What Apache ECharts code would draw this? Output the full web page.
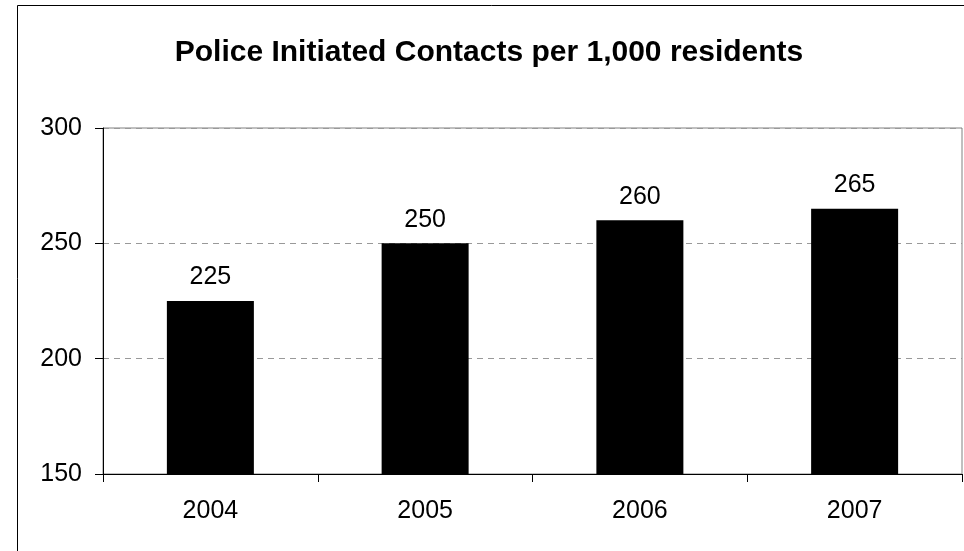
<!DOCTYPE html>
<html>
<head>
<meta charset="utf-8">
<script src="https://cdn.jsdelivr.net/npm/echarts@6/dist/echarts.min.js"></script>
<style>
  html, body { margin: 0; padding: 0; background: #fff; }
  #chart { width: 964px; height: 551px; }
</style>
</head>
<body>
<div id="chart"></div>
<script>
// Police-initiated contacts per 1,000 residents, by year
const years = ['2004', '2005', '2006', '2007'];
const contacts = [225, 250, 260, 265];
const yTicks = { min: 150, max: 300, step: 50 };

const chart = echarts.init(document.getElementById('chart'), null, { renderer: 'canvas' });
const font = '"Liberation Sans", Arial, Helvetica, sans-serif';

chart.setOption({
  backgroundColor: '#ffffff',
  animation: false,
  title: {
    text: 'Police Initiated Contacts per 1,000 residents',
    left: 484,
    textAlign: 'center',
    top: 33,
    textStyle: { fontFamily: font, fontSize: 30, fontWeight: 'bold', color: '#000' }
  },
  graphic: [{
    type: 'rect',
    shape: { x: 17.5, y: 5.5, width: 1000, height: 600 },
    style: { fill: 'none', stroke: '#000', lineWidth: 1 },
    silent: true,
    z: -1
  }],
  grid: {
    left: 103, top: 128, right: 2, bottom: 77,
    show: true, borderColor: '#808080', borderWidth: 1, backgroundColor: 'transparent'
  },
  xAxis: {
    type: 'category',
    data: years,
    boundaryGap: true,
    axisLine: { lineStyle: { color: '#000', width: 1 } },
    axisTick: { show: true, alignWithLabel: false, length: 8, lineStyle: { color: '#000' } },
    axisLabel: { color: '#000', fontFamily: font, fontSize: 25, margin: 25 },
    splitLine: { show: false }
  },
  yAxis: {
    type: 'value',
    min: yTicks.min,
    max: yTicks.max,
    interval: yTicks.step,
    axisLine: { show: true, lineStyle: { color: '#000', width: 1 } },
    axisTick: { show: true, length: 8, lineStyle: { color: '#000' } },
    axisLabel: { color: '#000', fontFamily: font, fontSize: 25, margin: 21 },
    splitLine: { show: true, lineStyle: { color: '#999', type: [6, 5], width: 1 } }
  },
  series: [{
    type: 'bar',
    data: contacts,
    barWidth: 87,
    itemStyle: { color: '#000' },
    label: {
      show: true,
      position: 'top',
      distance: 11,
      color: '#000',
      fontFamily: font,
      fontSize: 25
    }
  }]
});
</script>
</body>
</html>
